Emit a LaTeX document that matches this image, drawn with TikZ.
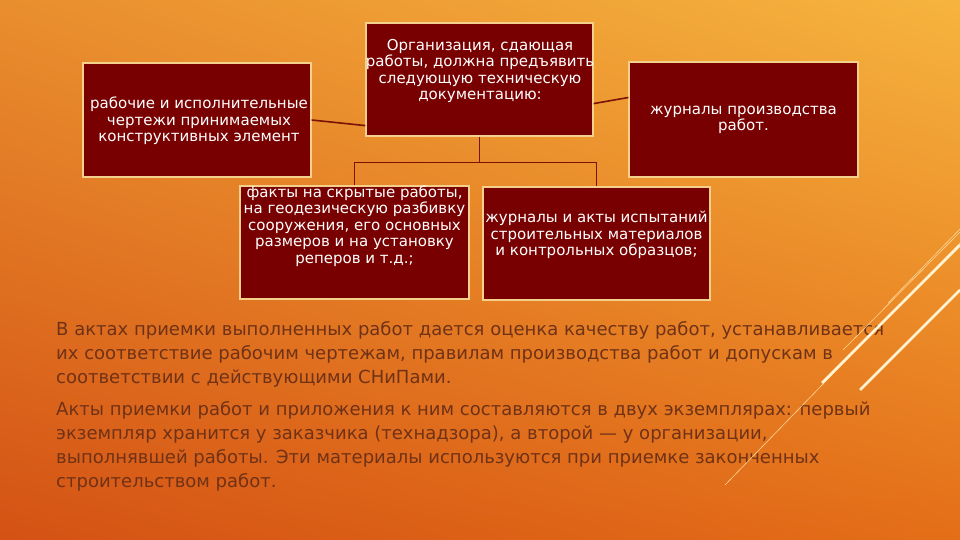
\documentclass[tikz,border=0pt]{standalone}
\usepackage{fontspec}
\setmainfont{DejaVu Sans}
\usetikzlibrary{calc, shadings}

\definecolor{bgtl}{RGB}{233,142,46}
\definecolor{bgtr}{RGB}{246,180,62}
\definecolor{bgbl}{RGB}{212,82,20}
\definecolor{bgbr}{RGB}{228,110,24}
\definecolor{boxfill}{HTML}{780000}
\definecolor{boxline}{HTML}{F3D08C}
\definecolor{linkred}{HTML}{7A1208}
\definecolor{bodytext}{RGB}{112,50,22}
\definecolor{stripecol}{RGB}{255,243,210}
\definecolor{thincol}{RGB}{255,214,150}

\begin{document}
\begin{tikzpicture}[x=1pt, y=-1pt,
  box/.style={draw=boxline, fill=boxfill, line width=1.2pt, inner sep=0pt},
  boxtext/.style={text=white, align=center, inner sep=0pt, font=\fontsize{15}{16.5}\selectfont},
  link/.style={draw=linkred, line width=1.6pt},
  bodypara/.style={text=bodytext, align=left, anchor=north west, inner sep=0pt, font=\fontsize{18}{24}\selectfont},
  stripe/.style={draw=stripecol, line width=2.6pt},
  thinstripe/.style={draw=thincol, line width=0.6pt}]

  % background
  \shade[upper left=bgtl, upper right=bgtr, lower left=bgbl, lower right=bgbr] (0,0) rectangle (960,540);
  \useasboundingbox (0,0) rectangle (960,540);

  % boxes
  \node[box, minimum width=228, minimum height=114] (left) at (197,120) {};
  \node[box, minimum width=227, minimum height=113] (org) at (479.5,79.5) {};
  \node[box, minimum width=229, minimum height=115] (jour) at (743.5,119.5) {};
  \node[box, minimum width=229, minimum height=113] (fact) at (354.5,242.5) {};
  \node[box, minimum width=227, minimum height=113] (test) at (596.5,243.5) {};

  % box texts
  \node[boxtext] (lefttext) at (199,121) {рабочие и исполнительные\\чертежи принимаемых\\конструктивных элемент};
  \node[boxtext] (orgtext) at (480,71) {Организация, сдающая\\работы, должна предъявить\\следующую техническую\\документацию:};
  \node[boxtext] (jourtext) at (743.5,120) {журналы производства\\работ.};
  \node[boxtext] (facttext) at (354.5,226) {факты на скрытые работы,\\на геодезическую разбивку\\сооружения, его основных\\размеров и на установку\\реперов и т.д.;};
  \node[boxtext] (testtext) at (596.5,235) {журналы и акты испытаний\\строительных материалов\\и контрольных образцов;};

  % connectors
  \coordinate (fork) at ($(org.south)+(0,26)$);
  \draw[link] (left.east) -- ([yshift=11pt]org.south west);
  \draw[link] ([yshift=33pt]org.south east) -- ([yshift=22pt]jour.west);
  \draw[link] (org.south) -- (fork);
  \draw[link] (fact.north) |- (fork) -| (test.north);

  % text
  \node[bodypara] (para1) at (56,321) {В актах приемки выполненных работ дается оценка качеству работ, устанавливается\\их соответствие рабочим чертежам, правилам производства работ и допускам в\\соответствии с действующими СНиПами.};
  \node[bodypara] (para2) at (56,401) {Акты приемки работ и приложения к ним составляются в двух экземплярах: первый\\экземпляр хранится у заказчика (технадзора), а второй — у организации,\\выполнявшей работы. Эти материалы используются при приемке законченных\\строительством работ.};

  % stripes
  \draw[thinstripe] (725,485) -- (960,243);
  \draw[thinstripe] (843,350) -- (960,232);
  \draw[thinstripe] (888,303) -- (960,229);
  \draw[stripe] (822,383) -- (960,245);
  \draw[stripe] (860,390) -- (960,290);
\end{tikzpicture}
\end{document}
